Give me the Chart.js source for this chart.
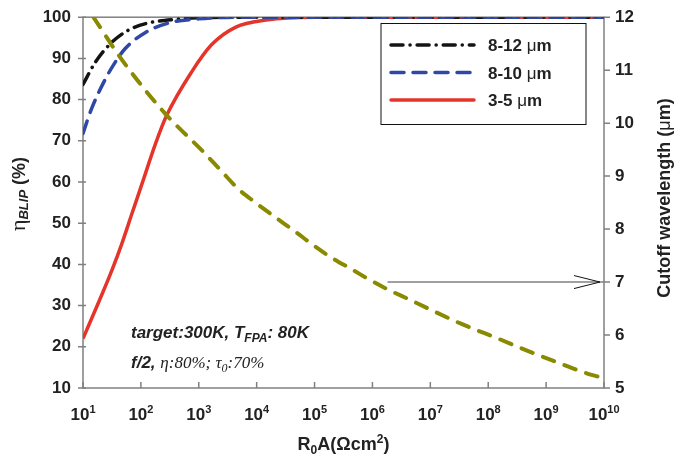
<!DOCTYPE html>
<html>
<head>
<meta charset="utf-8">
<script src="https://cdn.jsdelivr.net/npm/chart.js@4.4.1/dist/chart.umd.min.js"></script>
<style>
  html, body { margin:0; padding:0; background:#fff; }
</style>
</head>
<body>
<canvas id="c" width="675" height="461"></canvas>
<script>
// x values are log10(R0A / Ohm cm2)
const xTicks = [1,2,3,4,5,6,7,8,9,10];
const etaTicks = [10,20,30,40,50,60,70,80,90,100];
const lambdaTicks = [5,6,7,8,9,10,11,12];

const x812 = [1.0, 1.21, 1.49, 1.79, 2.13, 2.6, 3.12, 4, 5, 6, 7, 8, 9, 10];
const eta812 = [83.7, 89, 93.8, 96.9, 98.6, 99.5, 99.9, 100, 100, 100, 100, 100, 100, 100];

const x810 = [1.0, 1.14, 1.35, 1.53, 1.73, 2.08, 2.48, 3.0, 3.8, 5, 6, 7, 8, 9, 10];
const eta810 = [71.8, 77.5, 84.0, 88.5, 92.4, 96.3, 98.6, 99.6, 100, 100, 100, 100, 100, 100, 100];

const x35 = [1.0, 1.27, 1.5, 1.67, 1.84, 2.02, 2.25, 2.44, 2.88, 3.22, 3.64, 4.16, 5, 6, 7, 8, 9, 10];
const eta35 = [22, 30.8, 38.6, 45.0, 52.1, 59.6, 69.2, 76, 86.8, 93.3, 97.6, 99.3, 100, 100, 100, 100, 100, 100];

const xCut = [1.18, 1.67, 2.42, 3.05, 3.37, 3.69, 3.98, 4.3, 4.67, 4.96, 5.28, 5.66, 5.94, 6.23, 6.64, 7.04, 7.56, 8.2, 8.66, 9.18, 9.64, 10];
const cutoff = [12.0, 11.2, 10.18, 9.49, 9.12, 8.75, 8.5, 8.24, 7.95, 7.71, 7.47, 7.23, 7.05, 6.88, 6.67, 6.46, 6.2, 5.92, 5.71, 5.49, 5.3, 5.18];

const arrowFrom = 6.26;   // exponent where the arrow starts
const arrowLevel = 7;     // cutoff wavelength it points to

const pts = (xs, ys) => xs.map((v, i) => ({ x: v, y: ys[i] }));

const BOLD = 'bold 17px "Liberation Sans", Arial, sans-serif';
const INK = '#222';

function drawRuns(ctx, runs, x, y) {
  // runs: [text, font, dy]
  let cx = x;
  runs.forEach(r => {
    ctx.font = r[1];
    ctx.fillText(r[0], cx, y + (r[2] || 0));
    cx += ctx.measureText(r[0]).width;
  });
  return cx - x;
}
function runsWidth(ctx, runs) {
  let w = 0;
  runs.forEach(r => { ctx.font = r[1]; w += ctx.measureText(r[0]).width; });
  return w;
}

const decor = {
  id: 'decor',
  beforeDatasetsDraw(chart) {
    const { ctx, chartArea: a, scales: { x, y, y2 } } = chart;
    ctx.save();
    ctx.strokeStyle = '#808080';
    ctx.lineWidth = 1.5;
    ctx.strokeRect(a.left, a.top, a.right - a.left, a.bottom - a.top);
    ctx.beginPath();
    xTicks.forEach(v => { const p = x.getPixelForValue(v); ctx.moveTo(p, a.bottom); ctx.lineTo(p, a.bottom - 6); });
    etaTicks.forEach(v => { const p = y.getPixelForValue(v); ctx.moveTo(a.left - 5, p); ctx.lineTo(a.left + 3, p); });
    lambdaTicks.forEach(v => { const p = y2.getPixelForValue(v); ctx.moveTo(a.right, p); ctx.lineTo(a.right + 6, p); });
    ctx.stroke();

    // arrow to the right axis
    const ay = y2.getPixelForValue(arrowLevel);
    const ax = x.getPixelForValue(arrowFrom);
    ctx.beginPath();
    ctx.moveTo(ax, ay); ctx.lineTo(a.right, ay);
    ctx.stroke();
    ctx.strokeStyle = '#111';
    ctx.lineWidth = 1;
    ctx.beginPath();
    ctx.moveTo(a.right - 30, ay - 6.5); ctx.lineTo(a.right - 4, ay);
    ctx.lineTo(a.right - 30, ay + 6.5);
    ctx.stroke();
    ctx.restore();
  },
  afterDraw(chart) {
    const { ctx, chartArea: a, scales: { x } } = chart;
    ctx.save();
    ctx.fillStyle = INK;
    ctx.textBaseline = 'alphabetic';
    ctx.textAlign = 'left';

    // x tick labels 10^n
    xTicks.forEach(v => {
      const runs = [['10', BOLD, 0], [String(v), 'bold 11px "Liberation Sans", Arial, sans-serif', -7]];
      const w = runsWidth(ctx, runs);
      drawRuns(ctx, runs, x.getPixelForValue(v) - w / 2, 420);
    });

    // x title
    const sub = 'bold 12px "Liberation Sans", Arial, sans-serif';
    const big = 'bold 18px "Liberation Sans", Arial, sans-serif';
    const xt = [['R', big, 0], ['0', sub, 4], ['A(\u03A9cm', big, 0], ['2', sub, -7], [')', big, 0]];
    drawRuns(ctx, xt, (a.left + a.right) / 2 - runsWidth(ctx, xt) / 2, 450);

    // left title
    const lt = [['\u03B7', '22px "Liberation Serif", serif', 0], ['BLIP', 'italic bold 13px "Liberation Sans", Arial, sans-serif', 3], [' (%)', big, 0]];
    ctx.save();
    ctx.translate(25, 194);
    ctx.rotate(-Math.PI / 2);
    drawRuns(ctx, lt, -runsWidth(ctx, lt) / 2, 0);
    ctx.restore();

    // right title
    const rt = [['Cutoff wavelength (', big, 0], ['\u03BC', '18px "Liberation Sans", Arial, sans-serif', 0], ['m)', big, 0]];
    ctx.save();
    ctx.translate(670, 198);
    ctx.rotate(-Math.PI / 2);
    drawRuns(ctx, rt, -runsWidth(ctx, rt) / 2, 0);
    ctx.restore();

    // legend
    ctx.strokeStyle = '#111';
    ctx.lineWidth = 1;
    ctx.strokeRect(381, 23.5, 205, 101);
    const rows = [chart.data.datasets[0], chart.data.datasets[1], chart.data.datasets[2]];
    rows.forEach((ds, i) => {
      const ry = 45 + i * 27.5;
      ctx.save();
      ctx.strokeStyle = ds.borderColor;
      ctx.lineWidth = ds.borderWidth;
      ctx.lineCap = 'round';
      ctx.setLineDash(ds.borderDash || []);
      ctx.beginPath();
      ctx.moveTo(391, ry); ctx.lineTo(474, ry);
      ctx.stroke();
      ctx.restore();
      ctx.fillStyle = INK;
      drawRuns(ctx, [[ds.label.split(' ')[0] + ' ', BOLD, 0], ['\u03BC', '17px "Liberation Sans", Arial, sans-serif', 0], ['m', BOLD, 0]], 488, ry + 6);
    });

    // annotation
    const bi = 'italic bold 17px "Liberation Sans", Arial, sans-serif';
    drawRuns(ctx, [['target:300K, T', bi, 0], ['FPA', 'italic bold 12px "Liberation Sans", Arial, sans-serif', 4], [': 80K', bi, 0]], 131, 338);
    const si = 'italic 17px "Liberation Serif", serif';
    drawRuns(ctx, [['f/2, ', bi, 0], ['\u03B7:80%; \u03C4', si, 0], ['0', 'italic 12px "Liberation Serif", serif', 4], [':70%', si, 0]], 131, 368);

    ctx.restore();
  }
};

new Chart(document.getElementById('c'), {
  type: 'line',
  data: {
    datasets: [
      { label: '8-12 \u03BCm', data: pts(x812, eta812), yAxisID: 'y', borderColor: '#141414', borderWidth: 3.5,
        borderDash: [12, 7, 0.1, 7], borderCapStyle: 'round', pointRadius: 0, cubicInterpolationMode: 'monotone', order: 3 },
      { label: '8-10 \u03BCm', data: pts(x810, eta810), yAxisID: 'y', borderColor: '#2f47a6', borderWidth: 3.5,
        borderDash: [13, 9], borderCapStyle: 'round', pointRadius: 0, cubicInterpolationMode: 'monotone', order: 2 },
      { label: '3-5 \u03BCm', data: pts(x35, eta35), yAxisID: 'y', borderColor: '#e5352b', borderWidth: 3.5,
        pointRadius: 0, cubicInterpolationMode: 'monotone', order: 4 },
      { label: 'cutoff', data: pts(xCut, cutoff), yAxisID: 'y2', borderColor: '#8a8a00', borderWidth: 4,
        borderDash: [12, 11], borderCapStyle: 'round', pointRadius: 0, cubicInterpolationMode: 'monotone', order: 1 }
    ]
  },
  options: {
    responsive: false,
    animation: false,
    layout: { padding: { top: 12 } },
    plugins: { legend: { display: false }, tooltip: { enabled: false } },
    scales: {
      x: {
        type: 'linear', min: 1, max: 10,
        ticks: { display: false, stepSize: 1 },
        grid: { display: false }, border: { display: false },
        afterFit: s => { s.height = 73; }
      },
      y: {
        position: 'left', min: 10, max: 100,
        ticks: { stepSize: 10, padding: 7, color: INK, font: { family: '"Liberation Sans", Arial, sans-serif', size: 17, weight: 'bold' } },
        grid: { display: false, tickLength: 5 }, border: { display: false },
        afterFit: s => { s.width = 83; }
      },
      y2: {
        position: 'right', min: 5, max: 12,
        ticks: { stepSize: 1, padding: 6, color: INK, font: { family: '"Liberation Sans", Arial, sans-serif', size: 17, weight: 'bold' } },
        grid: { display: false, tickLength: 5 }, border: { display: false },
        afterFit: s => { s.width = 71; }
      }
    }
  },
  plugins: [decor]
});
</script>
</body>
</html>
